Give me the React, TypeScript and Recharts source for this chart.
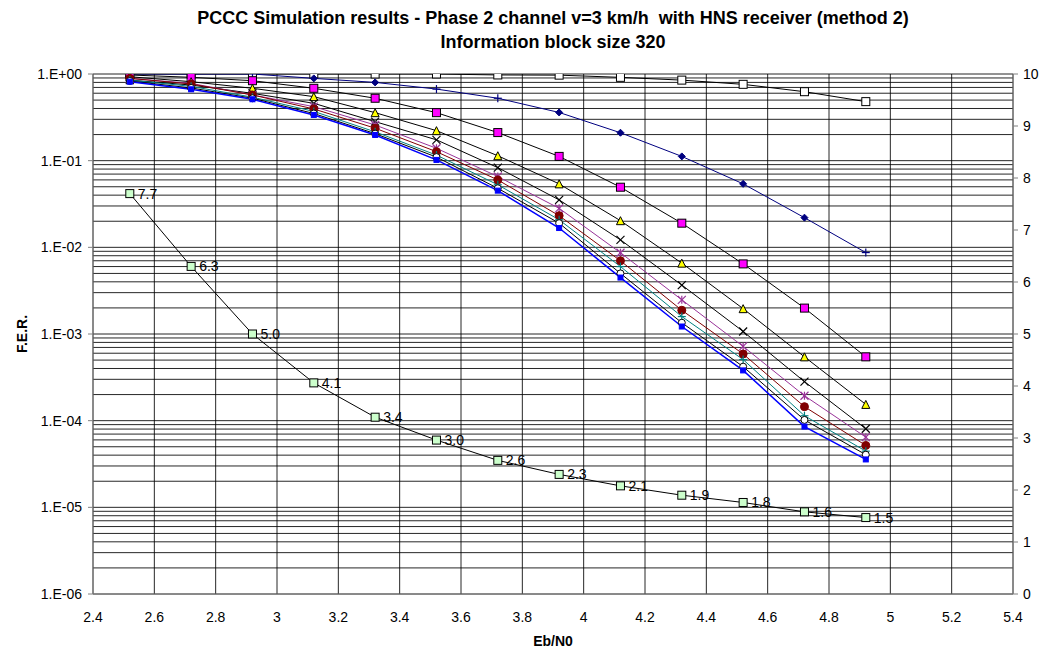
import React from 'react';
import { LineChart, Line, XAxis, YAxis, CartesianGrid, LabelList } from 'recharts';

// Eb/N0 sample points
const ebn0 = [2.52, 2.72, 2.92, 3.12, 3.32, 3.52, 3.72, 3.92, 4.12, 4.32, 4.52, 4.72, 4.92];

// F.E.R. per curve (left log axis)
const openSquare = [1, 1, 1, 1, 1, 1, 0.975, 0.97, 0.915, 0.85, 0.76, 0.625, 0.48];
const navy = [1, 1, 1, 0.89, 0.8, 0.67, 0.525, 0.36, 0.21, 0.112, 0.054, 0.022, 0.0087];
const magenta = [0.974, 0.916, 0.837, 0.684, 0.525, 0.358, 0.211, 0.112, 0.0494, 0.019, 0.00644, 0.00199, 0.000545];
const yellow = [0.93, 0.815, 0.684, 0.548, 0.358, 0.222, 0.114, 0.054, 0.0203, 0.00657, 0.00196, 0.000545, 0.000154];
const blackX = [0.85, 0.746, 0.598, 0.459, 0.282, 0.174, 0.0831, 0.0353, 0.0122, 0.00367, 0.00107, 0.000282, 0.0000807];
const purple = [0.89, 0.78, 0.573, 0.42, 0.258, 0.139, 0.0656, 0.0282, 0.00866, 0.00248, 0.000719, 0.000194, 0.0000645];
const darkRed = [0.89, 0.767, 0.573, 0.395, 0.237, 0.127, 0.06, 0.0232, 0.00699, 0.00188, 0.000588, 0.000145, 0.0000518];
const teal = [0.85, 0.72, 0.54, 0.37, 0.215, 0.116, 0.0527, 0.0208, 0.006, 0.00159, 0.000507, 0.000114, 0.0000445];
const openCircle = [0.83, 0.69, 0.525, 0.35, 0.205, 0.11, 0.048, 0.019, 0.005, 0.00135, 0.00042, 0.000102, 0.0000405];
const blue = [0.815, 0.666, 0.511, 0.337, 0.198, 0.102, 0.0451, 0.0167, 0.00448, 0.00122, 0.00038, 0.0000855, 0.0000357];

// labelled curve on the right (0-10) axis
const snrGap = [7.7, 6.3, 5.0, 4.06, 3.4, 2.96, 2.57, 2.3, 2.08, 1.9, 1.76, 1.58, 1.47];

// navy curve shows "+" markers at these points, diamonds elsewhere
const navyPlusIdx = [1, 2, 5, 6, 12];

const xTicks = [2.4, 2.6, 2.8, 3, 3.2, 3.4, 3.6, 3.8, 4, 4.2, 4.4, 4.6, 4.8, 5, 5.2, 5.4];
const decades = [1e-6, 1e-5, 1e-4, 1e-3, 1e-2, 1e-1, 1];
const rightTicks = [0, 1, 2, 3, 4, 5, 6, 7, 8, 9, 10];

const ferTicks: number[] = [];
decades.forEach((d, i) => {
  ferTicks.push(d);
  if (i < decades.length - 1) for (let k = 2; k <= 9; k++) ferTicks.push(+(k * d).toPrecision(3));
});

const rows = ebn0.map((x, i) => ({
  x,
  openSquare: openSquare[i],
  navy: navy[i],
  magenta: magenta[i],
  yellow: yellow[i],
  blackX: blackX[i],
  purple: purple[i],
  darkRed: darkRed[i],
  teal: teal[i],
  openCircle: openCircle[i],
  blue: blue[i],
  snrGap: snrGap[i],
}));

const FONT = 'Arial, "Liberation Sans", sans-serif';

type Shape = 'square' | 'diamond' | 'triangle' | 'x' | 'plus' | 'star' | 'circle';

function marker(shape: Shape, cx: number, cy: number, fill: string, stroke: string, s: number, key: any) {
  const h = s / 2;
  switch (shape) {
    case 'square':
      return <rect key={key} x={cx - h} y={cy - h} width={s} height={s} fill={fill} stroke={stroke} strokeWidth={1} />;
    case 'diamond':
      return <polygon key={key} points={`${cx},${cy - h} ${cx + h},${cy} ${cx},${cy + h} ${cx - h},${cy}`} fill={fill} stroke={stroke} />;
    case 'triangle':
      return <polygon key={key} points={`${cx},${cy - h} ${cx + h},${cy + h} ${cx - h},${cy + h}`} fill={fill} stroke={stroke} />;
    case 'circle':
      return <circle key={key} cx={cx} cy={cy} r={h} fill={fill} stroke={stroke} />;
    case 'x':
      return (
        <g key={key} stroke={stroke} strokeWidth={1.2}>
          <line x1={cx - h} y1={cy - h} x2={cx + h} y2={cy + h} />
          <line x1={cx - h} y1={cy + h} x2={cx + h} y2={cy - h} />
        </g>
      );
    case 'plus':
      return (
        <g key={key} stroke={stroke} strokeWidth={1.2}>
          <line x1={cx - h} y1={cy} x2={cx + h} y2={cy} />
          <line x1={cx} y1={cy - h} x2={cx} y2={cy + h} />
        </g>
      );
    case 'star':
      return (
        <g key={key} stroke={stroke} strokeWidth={1.2}>
          <line x1={cx - h} y1={cy - h} x2={cx + h} y2={cy + h} />
          <line x1={cx - h} y1={cy + h} x2={cx + h} y2={cy - h} />
          <line x1={cx} y1={cy - h} x2={cx} y2={cy + h} />
        </g>
      );
  }
}

const dot = (shape: Shape, fill: string, stroke: string, s: number) => (p: any) =>
  marker(shape, p.cx, p.cy, fill, stroke, s, `${p.dataKey}-${p.index}`);

const navyDot = (p: any) =>
  navyPlusIdx.includes(p.index)
    ? marker('plus', p.cx, p.cy, 'none', '#000080', 8, `navy-${p.index}`)
    : marker('diamond', p.cx, p.cy, '#000080', '#000080', 7, `navy-${p.index}`);

const fmtFer = (v: number) => {
  const e = Math.round(Math.log10(v));
  return `1.E${e < 0 ? '-' : '+'}${String(Math.abs(e)).padStart(2, '0')}`;
};

const FerTick = (p: any) => {
  const v = p.payload.value;
  const lg = Math.log10(v);
  if (Math.abs(lg - Math.round(lg)) > 1e-6) return <g />;
  return (
    <g>
      <line x1={p.x + 6} x2={p.x + 11} y1={p.y} y2={p.y} stroke="#808080" />
      <text x={p.x} y={p.y} dy="0.36em" textAnchor="end" fontSize={14} fontFamily={FONT} fill="#000">
        {fmtFer(v)}
      </text>
    </g>
  );
};

export default function App() {
  const tickStyle = { fontSize: 14, fontFamily: FONT, fill: '#000' };
  return (
    <div style={{ position: 'absolute', left: 0, top: 0, width: 1042, height: 653, background: '#fff' }}>
      <LineChart width={1042} height={653} data={rows} margin={{ top: 74, right: 0, bottom: 29, left: 13 }}>
        <CartesianGrid stroke="#000" strokeOpacity={0.85} />
        <XAxis
          dataKey="x"
          type="number"
          domain={[2.4, 5.4]}
          ticks={xTicks}
          interval={0}
          height={30}
          tickLine={false}
          tickMargin={12}
          axisLine={{ stroke: '#808080' }}
          tick={tickStyle}
          tickFormatter={(v: number) => String(Number(v.toFixed(1)))}
        />
        <YAxis
          scale="log"
          domain={[1e-6, 1]}
          ticks={ferTicks}
          interval={0}
          allowDataOverflow
          width={80}
          tickSize={5}
          tickMargin={6}
          tickLine={false}
          axisLine={{ stroke: '#808080' }}
          tick={<FerTick />}
        />
        <YAxis
          yAxisId="right"
          orientation="right"
          domain={[0, 10]}
          ticks={rightTicks}
          interval={0}
          width={29}
          tickSize={5}
          tickMargin={5}
          tickLine={{ stroke: '#808080' }}
          axisLine={{ stroke: '#808080' }}
          tick={tickStyle}
        />
        <Line dataKey="openSquare" stroke="#000" strokeWidth={1} isAnimationActive={false} dot={dot('square', '#fff', '#000', 8)} />
        <Line dataKey="navy" stroke="#000080" strokeWidth={1} isAnimationActive={false} dot={navyDot} />
        <Line dataKey="magenta" stroke="#000" strokeWidth={1} isAnimationActive={false} dot={dot('square', '#ff00ff', '#000', 8)} />
        <Line dataKey="yellow" stroke="#000" strokeWidth={1} isAnimationActive={false} dot={dot('triangle', '#ffff00', '#000', 8)} />
        <Line dataKey="blackX" stroke="#000" strokeWidth={1} isAnimationActive={false} dot={dot('x', 'none', '#000', 8)} />
        <Line dataKey="purple" stroke="#993399" strokeWidth={1} isAnimationActive={false} dot={dot('star', 'none', '#993399', 8)} />
        <Line dataKey="darkRed" stroke="#800000" strokeWidth={1} isAnimationActive={false} dot={dot('circle', '#800000', '#800000', 8)} />
        <Line dataKey="teal" stroke="#008080" strokeWidth={1} isAnimationActive={false} dot={dot('plus', 'none', '#008080', 8)} />
        <Line dataKey="openCircle" stroke="#000" strokeWidth={1} isAnimationActive={false} dot={dot('circle', '#fff', '#000', 7)} />
        <Line dataKey="blue" stroke="#0000ff" strokeWidth={1.5} isAnimationActive={false} dot={dot('square', '#0000ff', '#0000ff', 5)} />
        <Line yAxisId="right" dataKey="snrGap" stroke="#000" strokeWidth={1} isAnimationActive={false} dot={dot('square', '#ccffcc', '#000', 8)}>
          <LabelList
            dataKey="snrGap"
            position="right"
            offset={8}
            fontSize={14}
            fontFamily={FONT}
            fill="#000"
            formatter={(v: any) => Number(v).toFixed(1)}
          />
        </Line>
      </LineChart>
      <svg width={1042} height={653} style={{ position: 'absolute', left: 0, top: 0, pointerEvents: 'none' }}>
        <g fontFamily={FONT} fontWeight="bold" fill="#000" textAnchor="middle">
          <text x={553} y={24} fontSize={18}>
            PCCC Simulation results - Phase 2 channel v=3 km/h{'\u00a0'} with HNS receiver (method 2)
          </text>
          <text x={553} y={47.5} fontSize={18}>Information block size 320</text>
          <text x={553} y={646} fontSize={14}>Eb/N0</text>
          <text x={27} y={334} fontSize={14} transform="rotate(-90 27 334)">F.E.R.</text>
        </g>
      </svg>
    </div>
  );
}
